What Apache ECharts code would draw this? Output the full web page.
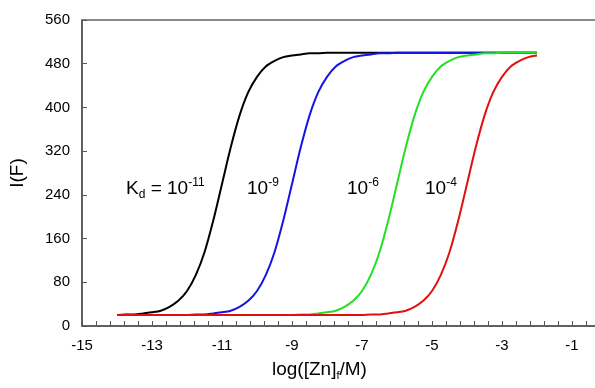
<!DOCTYPE html>
<html>
<head>
<meta charset="utf-8">
<script src="https://cdn.jsdelivr.net/npm/echarts@6/dist/echarts.min.js"></script>
<style>
html,body{margin:0;padding:0;background:#fff;}
#chart{width:595px;height:388px;}
</style>
</head>
<body>
<div id="chart"></div>
<script>
// log([Zn]f/M) sample positions shared by all curves (-14 .. -2, step 0.25)
const logZn = [-14,-13.75,-13.5,-13.25,-13,-12.75,-12.5,-12.25,-12,-11.75,-11.5,-11.25,-11,-10.75,-10.5,-10.25,-10,-9.75,-9.5,-9.25,-9,-8.75,-8.5,-8.25,-8,-7.75,-7.5,-7.25,-7,-6.75,-6.5,-6.25,-6,-5.75,-5.5,-5.25,-5,-4.75,-4.5,-4.25,-4,-3.75,-3.5,-3.25,-3,-2.75,-2.5,-2.25,-2];

// I(F)
const kd11 = [20,21,21,23,25,28,35,46,64,93,135,193,260,327,385,428,456,475,485,492,495,497,499,499,500,500,500,500,500,500,500,500,500,500,500,500,500,500,500,500,500,500,500,500,500,500,500,500,500];
const kd9  = [20,20,20,20,20,20,20,20,20,21,21,23,25,28,35,46,64,93,135,193,260,327,385,428,456,475,485,492,495,497,499,499,500,500,500,500,500,500,500,500,500,500,500,500,500,500,500,500,500];
const kd6  = [20,20,20,20,20,20,20,20,20,20,20,20,20,20,20,20,20,20,20,20,20,21,21,23,25,28,35,46,64,93,135,193,260,327,385,428,456,475,485,492,495,497,499,499,500,500,500,500,500];
const kd4  = [20,20,20,20,20,20,20,20,20,20,20,20,20,20,20,20,20,20,20,20,20,20,20,20,20,20,20,20,20,21,21,23,25,28,35,46,64,93,135,193,260,327,385,428,456,475,485,492,495];

const xTicks = { min: -15, max: 1, interval: 2 };
const yTicks = { min: 0, max: 560, interval: 80 };

const seriesNames = ['10^-11','10^-9','10^-6','10^-4'];
const seriesData = [kd11, kd9, kd6, kd4];
const seriesColors = ['#000000','#1414e6','#22e022','#e01010'];

const pairs = arr => arr.map((v, i) => [logZn[i], v]);

const FONT = '"Liberation Sans", Arial, sans-serif';
const chart = echarts.init(document.getElementById('chart'));

const annRich = {
  n:   { fontSize: 19, lineHeight: 24, fontFamily: FONT, color: '#000' },
  sup: { fontSize: 12, lineHeight: 12, fontFamily: FONT, verticalAlign: 'top', color: '#000' },
  sub: { fontSize: 12, lineHeight: 12, fontFamily: FONT, verticalAlign: 'bottom', color: '#000' }
};

function ann(x, y, text) {
  return {
    type: 'text', left: x, top: y, z: 100,
    style: { text: text, rich: annRich, fill: '#000' }
  };
}

chart.setOption({
  animation: false,
  backgroundColor: '#fff',
  grid: { left: 82, top: 20, bottom: 62, right: -47, outerBoundsMode: 'none', containLabel: false, show: true, borderColor: '#666', borderWidth: 1.5, backgroundColor: 'transparent' },
  xAxis: {
    type: 'value', min: xTicks.min, max: xTicks.max, interval: xTicks.interval,
    axisLine: { onZero: false, lineStyle: { color: '#555', width: 1.5 } },
    axisTick: { inside: true, length: 5, lineStyle: { color: '#555' } },
    minorTick: { show: true, splitNumber: 5, length: 5, lineStyle: { color: '#555' } },
    splitLine: { show: false },
    axisLabel: { color: '#000', fontSize: 15, fontFamily: FONT, margin: 12 }
  },
  yAxis: {
    type: 'value', min: yTicks.min, max: yTicks.max, interval: yTicks.interval,
    name: 'I(F)', nameLocation: 'middle', nameGap: 55,
    nameTextStyle: { color: '#000', fontSize: 19, fontFamily: FONT },
    axisLine: { show: true, onZero: false, lineStyle: { color: '#555', width: 1.5 } },
    axisTick: { show: true, inside: true, length: 5, lineStyle: { color: '#555' } },
    splitLine: { show: false },
    axisLabel: { color: '#000', fontSize: 15, fontFamily: FONT, margin: 12 }
  },
  graphic: [
    ann(126, 177, '{n|K}{sub|d}{n| = 10}{sup|-11}'),
    ann(247, 177, '{n|10}{sup|-9}'),
    ann(347, 177, '{n|10}{sup|-6}'),
    ann(425, 177, '{n|10}{sup|-4}'),
    {
      type: 'text', left: 272, top: 360, z: 100,
      style: {
        text: '{n|log([Zn]}{sub|f}{n|/M)}',
        rich: {
          n: { fontSize: 19, lineHeight: 24, fontFamily: FONT, color: '#000' },
          sub: { fontSize: 11, lineHeight: 11, fontFamily: FONT, verticalAlign: 'bottom', color: '#000' }
        },
        fill: '#000'
      }
    }
  ],
  series: seriesData.map((d, i) => ({
    name: seriesNames[i], type: 'line', data: pairs(d), showSymbol: false, symbol: 'none',
    smooth: 0.3, lineStyle: { color: seriesColors[i], width: 2 }, itemStyle: { color: seriesColors[i] }, z: 2 + i
  }))
});
</script>
</body>
</html>
